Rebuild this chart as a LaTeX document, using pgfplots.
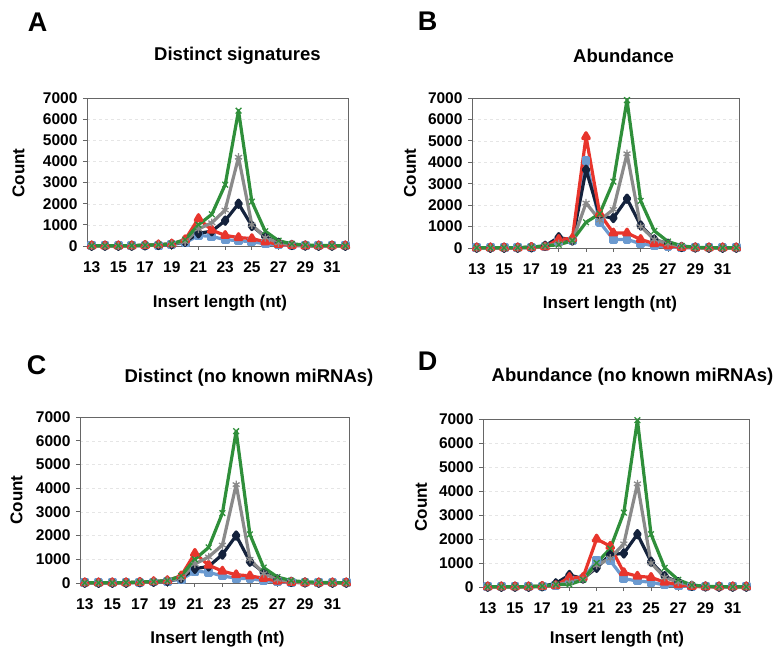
\documentclass[border=0pt]{standalone}
\usepackage{fontspec}
\setmainfont{Liberation Sans}
\usepackage{pgfplots}
\pgfplotsset{compat=1.18}
\definecolor{cgreen}{HTML}{2F8F3A}
\definecolor{cgray}{HTML}{8A8A8A}
\definecolor{cnavy}{HTML}{14223C}
\definecolor{cred}{HTML}{E8352C}
\definecolor{cblue}{HTML}{6B9AD0}
\pgfplotsset{panel/.style={
  scale only axis, anchor=south west,
  xmin=12.65, xmax=32.2, ymin=0, ymax=7000,
  xtick={13,15,...,31}, ytick={0,1000,...,7000},
  tick align=outside, tick pos=left, major tick length=4bp,
  ymajorgrids, grid style={black!10, dashed},
  axis line style={black!60, line width=0.8bp},
  tick style={black!60, line width=0.8bp},
  ticklabel style={font=\fontsize{15.5bp}{17bp}\selectfont\bfseries},
  xticklabel style={yshift=-8bp},
  yticklabel style={xshift=-2bp},
  /pgf/number format/assume math mode=true,
  scaled y ticks=false, /pgf/number format/1000 sep={},
  every axis plot/.append style={line width=3.2bp, line join=round},
  clip=false,
},
sblue/.style={color=cblue, mark=square*, mark size=2.8bp, mark options={solid}},
snavy/.style={color=cnavy, mark=diamond*, mark size=3.6bp},
sred/.style={color=cred, mark=triangle*, mark size=3.8bp},
sgray/.style={color=cgray, mark=asterisk, mark size=4bp, mark options={line width=1.3bp}},
sgreen/.style={color=cgreen, mark=x, mark size=4bp, mark options={line width=1.3bp}},
}
\newcommand{\ttl}{\fontsize{18.5bp}{21bp}\selectfont\bfseries}
\newcommand{\lbl}{\fontsize{17bp}{20bp}\selectfont\bfseries}
\newcommand{\panelletter}{\fontsize{27bp}{30bp}\selectfont\bfseries}
\begin{document}
\begin{tikzpicture}
\useasboundingbox (0,0) rectangle (778bp,649bp);
% ---------- A ----------
\begin{axis}[panel, at={(87bp,403bp)}, width=261bp, height=148bp]
\addplot[sblue] coordinates {(13,10)(14,10)(15,10)(16,10)(17,20)(18,40)(19,80)(20,150)(21,500)(22,450)(23,300)(24,250)(25,200)(26,100)(27,50)(28,20)(29,10)(30,10)(31,10)(32,10)};
\addplot[snavy] coordinates {(13,10)(14,10)(15,10)(16,10)(17,30)(18,50)(19,90)(20,200)(21,600)(22,700)(23,1200)(24,2000)(25,950)(26,450)(27,150)(28,50)(29,20)(30,10)(31,10)(32,10)};
\addplot[sred] coordinates {(13,10)(14,10)(15,10)(16,10)(17,30)(18,60)(19,100)(20,300)(21,1300)(22,750)(23,500)(24,400)(25,350)(26,200)(27,80)(28,30)(29,10)(30,10)(31,10)(32,10)};
\addplot[sgray] coordinates {(13,10)(14,10)(15,10)(16,10)(17,30)(18,60)(19,100)(20,200)(21,800)(22,1100)(23,1700)(24,4200)(25,1000)(26,400)(27,150)(28,60)(29,20)(30,10)(31,10)(32,10)};
\addplot[sgreen] coordinates {(13,10)(14,10)(15,10)(16,20)(17,40)(18,60)(19,100)(20,300)(21,1000)(22,1500)(23,2900)(24,6400)(25,2100)(26,700)(27,250)(28,100)(29,50)(30,30)(31,20)(32,10)};
\end{axis}
% ---------- B ----------
\begin{axis}[panel, at={(472bp,401bp)}, width=267bp, height=150bp]
\addplot[sblue] coordinates {(13,10)(14,10)(15,10)(16,10)(17,20)(18,60)(19,300)(20,350)(21,4100)(22,1200)(23,400)(24,400)(25,200)(26,100)(27,50)(28,20)(29,10)(30,10)(31,10)(32,10)};
\addplot[snavy] coordinates {(13,10)(14,10)(15,10)(16,10)(17,30)(18,100)(19,500)(20,350)(21,3650)(22,1500)(23,1400)(24,2300)(25,1050)(26,400)(27,200)(28,50)(29,20)(30,10)(31,10)(32,10)};
\addplot[sred] coordinates {(13,10)(14,10)(15,10)(16,10)(17,30)(18,50)(19,400)(20,450)(21,5200)(22,1600)(23,700)(24,700)(25,400)(26,200)(27,100)(28,30)(29,10)(30,10)(31,10)(32,10)};
\addplot[sgray] coordinates {(13,10)(14,10)(15,10)(16,10)(17,30)(18,80)(19,200)(20,300)(21,2100)(22,1300)(23,1800)(24,4400)(25,1000)(26,400)(27,200)(28,80)(29,20)(30,10)(31,10)(32,10)};
\addplot[sgreen] coordinates {(13,10)(14,10)(15,10)(16,20)(17,40)(18,100)(19,150)(20,350)(21,1200)(22,1600)(23,3100)(24,6900)(25,2200)(26,800)(27,300)(28,100)(29,30)(30,20)(31,10)(32,10)};
\end{axis}
% ---------- C ----------
\begin{axis}[panel, at={(80bp,66bp)}, width=269bp, height=166bp]
\addplot[sblue] coordinates {(13,10)(14,10)(15,10)(16,10)(17,20)(18,40)(19,80)(20,150)(21,500)(22,450)(23,300)(24,200)(25,180)(26,100)(27,50)(28,20)(29,10)(30,10)(31,10)(32,10)};
\addplot[snavy] coordinates {(13,10)(14,10)(15,10)(16,10)(17,30)(18,50)(19,90)(20,200)(21,600)(22,700)(23,1200)(24,2000)(25,900)(26,450)(27,150)(28,50)(29,20)(30,10)(31,10)(32,10)};
\addplot[sred] coordinates {(13,10)(14,10)(15,10)(16,10)(17,30)(18,60)(19,100)(20,300)(21,1250)(22,750)(23,500)(24,350)(25,300)(26,200)(27,80)(28,30)(29,10)(30,10)(31,10)(32,10)};
\addplot[sgray] coordinates {(13,10)(14,10)(15,10)(16,10)(17,30)(18,60)(19,100)(20,200)(21,800)(22,1100)(23,1600)(24,4150)(25,1000)(26,400)(27,150)(28,60)(29,20)(30,10)(31,10)(32,10)};
\addplot[sgreen] coordinates {(13,10)(14,10)(15,10)(16,20)(17,40)(18,60)(19,100)(20,300)(21,1000)(22,1500)(23,2950)(24,6400)(25,2050)(26,650)(27,250)(28,100)(29,50)(30,30)(31,20)(32,10)};
\end{axis}
% ---------- D ----------
\begin{axis}[panel, at={(483bp,62bp)}, width=266bp, height=168bp]
\addplot[sblue] coordinates {(13,10)(14,10)(15,10)(16,10)(17,20)(18,60)(19,300)(20,350)(21,1100)(22,1100)(23,350)(24,250)(25,200)(26,80)(27,50)(28,20)(29,10)(30,10)(31,10)(32,10)};
\addplot[snavy] coordinates {(13,10)(14,10)(15,10)(16,10)(17,30)(18,150)(19,500)(20,350)(21,800)(22,1350)(23,1400)(24,2200)(25,1050)(26,450)(27,200)(28,50)(29,20)(30,10)(31,10)(32,10)};
\addplot[sred] coordinates {(13,10)(14,10)(15,10)(16,10)(17,30)(18,60)(19,400)(20,400)(21,2000)(22,1700)(23,600)(24,450)(25,400)(26,200)(27,100)(28,30)(29,10)(30,10)(31,10)(32,10)};
\addplot[sgray] coordinates {(13,10)(14,10)(15,10)(16,10)(17,30)(18,80)(19,200)(20,300)(21,900)(22,1200)(23,1800)(24,4300)(25,1000)(26,400)(27,200)(28,80)(29,20)(30,10)(31,10)(32,10)};
\addplot[sgreen] coordinates {(13,10)(14,10)(15,10)(16,20)(17,40)(18,100)(19,100)(20,300)(21,1000)(22,1600)(23,3100)(24,6950)(25,2200)(26,800)(27,300)(28,80)(29,30)(30,20)(31,10)(32,10)};
\end{axis}
% ---------- titles, letters, labels ----------
\node[font=\panelletter] at (37.5bp,626.5bp) {A};
\node[font=\panelletter] at (427.5bp,628bp) {B};
\node[font=\panelletter] at (36.5bp,283.5bp) {C};
\node[font=\panelletter] at (427.5bp,287.5bp) {D};
\node[font=\ttl] at (237.5bp,593.5bp) {Distinct signatures};
\node[font=\ttl] at (623.5bp,593.5bp) {Abundance};
\node[font=\ttl] at (249bp,271.5bp) {Distinct (no known miRNAs)};
\node[font=\ttl] at (632.5bp,272.5bp) {Abundance (no known miRNAs)};
\node[font=\lbl] at (220bp,346bp) {Insert length (nt)};
\node[font=\lbl] at (610bp,345bp) {Insert length (nt)};
\node[font=\lbl] at (217.5bp,9.5bp) {Insert length (nt)};
\node[font=\lbl] at (617bp,9.5bp) {Insert length (nt)};
\node[font=\lbl, rotate=90] at (18.5bp,476bp) {Count};
\node[font=\lbl, rotate=90] at (410bp,476bp) {Count};
\node[font=\lbl, rotate=90] at (16.5bp,149bp) {Count};
\node[font=\lbl, rotate=90] at (421bp,142bp) {Count};
\end{tikzpicture}
\end{document}
